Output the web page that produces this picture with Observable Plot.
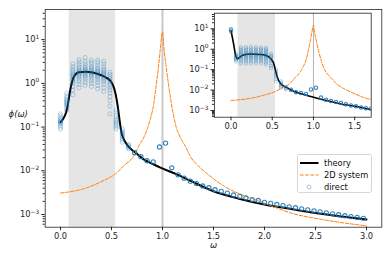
<!DOCTYPE html>
<html><head><meta charset="utf-8">
<script src="https://cdn.jsdelivr.net/npm/d3@7"></script>
<script src="https://cdn.jsdelivr.net/npm/@observablehq/plot@0.6"></script>
<style>
body{margin:0;background:#fff;}
#wrap{position:relative;width:390px;height:260px;font-family:"DejaVu Sans",sans-serif;}
#wrap svg{position:absolute;left:0;top:0;}
#legend{position:absolute;left:297px;top:154px;width:75px;height:39px;box-sizing:border-box;border:1px solid #d6d6d6;border-radius:2.5px;background:rgba(255,255,255,0.85);font-size:8.3px;color:#111;}
#legend .row{position:absolute;left:0;height:10px;line-height:10px;}
#legend svg{position:absolute;left:2px;top:0;}
#legend span{position:absolute;left:26px;white-space:nowrap;}
</style></head><body><div id="wrap"></div>
<script>
// ---- data ----
const band = [0.085, 0.54];
const resonance = 1.0;

const theoryX = [0,0.03,0.05,0.065,0.08,0.1,0.13,0.18,0.25,0.3,0.36,0.42,0.46,0.507,0.539,0.562,0.58,0.596,0.62,0.654,0.7,0.735,0.82,0.9,0.98,1.14,1.275,1.5,1.75,2.0,2.25,2.5,2.75,3.0];
const theoryY = [0.13,0.16,0.2,0.27,0.42,0.8,1.4,1.8,1.84,1.8,1.66,1.47,1.3,1.0,0.59,0.29,0.14,0.078,0.053,0.039,0.03,0.026,0.018,0.0145,0.0118,0.0083,0.0059,0.0034,0.0023,0.0017,0.00135,0.00108,0.0009,0.00077];

const orangeX = [0,0.23,0.39,0.49,0.54,0.62,0.72,0.775,0.82,0.85,0.88,0.915,0.938,0.964,0.98,1.0,1.013,1.036,1.062,1.095,1.134,1.18,1.225,1.275,1.35,1.44,1.6,1.765,1.93,2.09,2.25,2.58,3.0];
const orangeY = [0.0031,0.0039,0.0055,0.0072,0.0085,0.013,0.022,0.04,0.06,0.09,0.15,0.35,0.9,2.8,6.5,15,6.8,2.4,0.84,0.27,0.1,0.055,0.036,0.021,0.013,0.0085,0.0045,0.0029,0.0021,0.0015,0.0011,0.00076,0.00055];

const directX = [0.000,0.061,0.121,0.182,0.242,0.303,0.364,0.424,0.485,0.545,0.606,0.667,0.727,0.788,0.848,0.909,0.970,1.030,1.091,1.152,1.212,1.273,1.333,1.394,1.455,1.515,1.576,1.636,1.697,1.758,1.818,1.879,1.939,2.000,2.061,2.121,2.182,2.242,2.303,2.364,2.424,2.485,2.545,2.606,2.667,2.727,2.788,2.848,2.909,2.970];

// spread samples (k = 0..11) main
const mainSpread = [
 [0.09,0.1,0.11,0.12,0.125,0.13,0.135,0.14,0.15,0.16,0.18,0.2],
 [0.24,0.27,0.3,0.32,0.34,0.36,0.38,0.4,0.43,0.47,0.52,0.6],
 [0.55,0.7,0.85,1.0,1.1,1.2,1.3,1.4,1.5,1.6,1.75,1.9,2.1,2.4,2.8],
 [0.8,0.95,1.1,1.25,1.4,1.5,1.6,1.7,1.8,1.9,2.0,2.2,2.4,2.7,3.1,3.5],
 [0.9,1.05,1.2,1.35,1.5,1.6,1.7,1.8,1.9,2.0,2.1,2.3,2.5,2.8,3.2,3.9],
 [0.85,1.0,1.15,1.3,1.45,1.55,1.65,1.75,1.85,1.95,2.05,2.2,2.4,2.7,3.0,3.4],
 [0.75,0.9,1.05,1.2,1.35,1.45,1.55,1.65,1.75,1.85,1.95,2.1,2.3,2.6,3.0,3.4],
 [0.65,0.8,0.95,1.1,1.2,1.3,1.4,1.5,1.6,1.7,1.8,1.95,2.1,2.4,2.8,3.2],
 [0.2,0.3,0.4,0.5,0.6,0.7,0.8,0.9,1.0,1.1,1.2,1.3,1.45,1.6,1.8],
 [0.09,0.1,0.11,0.12,0.13,0.14,0.15,0.17,0.19,0.22,0.25],
 [0.045,0.05,0.055,0.06,0.065,0.07,0.075,0.08,0.09],
 [0.032,0.034,0.036,0.038,0.04]
];
// single values (k = 12..49) main
const mainDirect = [0.026,0.021,0.017,0.016,0.035,0.043,0.0117,0.0081,0.0068,0.0058,0.0051,0.0045,0.0041,0.0037,0.0034,0.0031,0.0028,0.0026,0.0024,0.0022,0.0021,0.0019,0.0018,0.0017,0.0016,0.0015,0.00143,0.00135,0.00128,0.00121,0.00115,0.00109,0.00104,0.00099,0.00094,0.0009,0.00086,0.00082];

// inset
const insetTheoryX = [0,0.015,0.032,0.052,0.073,0.09,0.11,0.15,0.235,0.356,0.42,0.46,0.5,0.52,0.54,0.56,0.6,0.69,0.72,0.83,1.0,1.17,1.33,1.5,1.7];
const insetTheoryY = [8,4,1.8,0.6,0.34,0.36,0.42,0.52,0.58,0.55,0.5,0.42,0.28,0.19,0.09,0.045,0.021,0.0125,0.0105,0.007,0.0045,0.003,0.0021,0.0016,0.0011];
const insetSpread = [
 [7,7.5,8,8.5,9,9.5,10],
 [0.25,0.3,0.33,0.36,0.4,0.45,0.5,0.57],
 [0.2,0.25,0.3,0.35,0.4,0.45,0.5,0.55,0.6,0.68,0.78,0.9,1.05,1.25],
 [0.2,0.25,0.3,0.35,0.4,0.45,0.5,0.55,0.6,0.68,0.78,0.9,1.05,1.25],
 [0.2,0.25,0.3,0.35,0.4,0.45,0.5,0.55,0.6,0.68,0.78,0.9,1.05,1.3],
 [0.2,0.25,0.3,0.35,0.4,0.45,0.5,0.55,0.6,0.68,0.78,0.9,1.05,1.25],
 [0.2,0.25,0.3,0.35,0.4,0.45,0.5,0.55,0.6,0.68,0.78,0.9,1.05,1.2],
 [0.18,0.22,0.27,0.32,0.37,0.42,0.47,0.52,0.58,0.65,0.75,0.88,1.0,1.15],
 [0.12,0.15,0.2,0.25,0.3,0.35,0.4,0.45,0.5,0.6],
 [0.027,0.035,0.045,0.055,0.065,0.08,0.1],
 [0.013,0.015,0.017,0.02,0.023,0.027],
 [0.011,0.012,0.013,0.014]
];
const insetDirect = [0.0105,0.0079,0.0071,0.0065,0.0107,0.013,0.0043,0.0034,0.0029,0.0026,0.0023,0.0020,0.00178,0.0016,0.00142,0.0013,0.00122];

const xTicksMain = [0,0.5,1,1.5,2,2.5,3];
const xTicksInset = [0,0.5,1,1.5];
const xTickLabelsMain = ["0.0","0.5","1.0","1.5","2.0","2.5","3.0"];
const xTickLabelsInset = ["0.0","0.5","1.0","1.5"];
const yTicks = [1e-3,1e-2,1e-1,1,10];
const yTickBase = "10";
const yTickExponents = ["\u22123","\u22122","\u22121","0","1"];
const legendLabels = ["theory","2D system","direct"];

// ---- tables ----
const theory = theoryX.map((x,i)=>({x, y: theoryY[i]}));
const orange = orangeX.map((x,i)=>({x, y: orangeY[i]}));
const insetTheory = insetTheoryX.map((x,i)=>({x, y: insetTheoryY[i]}));
const spreadRows = arr => arr.flatMap((vals,k)=>vals.map(y=>({x: directX[k], y})));
const singleRows = arr => arr.map((y,i)=>({x: directX[i+12], y}));
const minorTicks = [];
for (const e of [-4,-3,-2,-1,0,1]) for (let m=2;m<=9;m++) minorTicks.push(+(m*Math.pow(10,e)).toPrecision(3));
const yLabelOf = d => { const i = yTicks.findIndex(t => Math.abs(t - d) / t < 1e-6); return i < 0 ? "" : yTickBase + "^" + yTickExponents[i]; };

const BLUE = "#1f77b4", ORANGE = "#ff7f0e", INK = "#262626";
const font = {fontSize:"8.3px", fontFamily:"DejaVu Sans, sans-serif", color: INK, background:"transparent", overflow:"visible"};

function panel(o) {
  const dom = o.ydomain;
  const minors = minorTicks.filter(v => v >= dom[0] && v <= dom[1]);
  return Plot.plot({
    width: 390, height: 260,
    marginLeft: o.ml, marginRight: o.mr, marginTop: o.mt, marginBottom: o.mb,
    style: font,
    x: {domain: o.xdomain},
    y: {type: "log", domain: dom},
    marks: [
      o.bg ? Plot.frame({fill: "white", stroke: null}) : null,
      Plot.rect([band], {x1: d=>d[0], x2: d=>d[1], fill: "#e5e5e5"}),
      Plot.ruleX([resonance], {stroke: o.ruleColor, strokeWidth: o.ruleWidth}),
      Plot.line(o.theory, {x:"x", y:"y", stroke:"black", strokeWidth:o.lw, curve:"monotone-x", clip:true}),
      Plot.line(orange, {x:"x", y:"y", stroke:ORANGE, strokeWidth:1, strokeDasharray:"3.6,1.6", curve:"monotone-x", clip:true}),
      Plot.dot(spreadRows(o.spread), {x:"x", y:"y", r:o.r, stroke:BLUE, strokeWidth:1, strokeOpacity:0.3, fill:"none", clip:true}),
      Plot.dot(singleRows(o.single), {x:"x", y:"y", r:o.r, stroke:BLUE, strokeWidth:1.1, strokeOpacity:0.9, fill:"none", clip:true}),
      Plot.axisX({ticks: o.xticks, tickFormat: d=>o.xlabels[o.xticks.indexOf(d)], tickSize:3.5, tickPadding:2.5, label:null}),
      Plot.axisY({ticks: minors, tickFormat: ()=>"", tickSize:2, label:null}),
      Plot.axisY({ticks: yTicks.filter(v => v >= dom[0] && v <= dom[1]), tickFormat: yLabelOf, tickSize:3.5, tickPadding:2.5, label:null}),
      Plot.frame({stroke: INK, strokeWidth: 0.8}),
      ...(o.extra || [])
    ]
  });
}

// render "10^e" tick labels as base + raised exponent
function superscripts(svg) {
  svg.querySelectorAll("text").forEach(t => {
    const s = t.textContent;
    const j = s.indexOf("^");
    if (j < 0) return;
    const base = s.slice(0, j), exp = s.slice(j + 1);
    t.textContent = "";
    const ns = "http://www.w3.org/2000/svg";
    const a = document.createElementNS(ns, "tspan"); a.textContent = base;
    const b = document.createElementNS(ns, "tspan"); b.textContent = exp;
    b.setAttribute("dy", "-3.6"); b.setAttribute("font-size", "5.9");
    t.append(a, b);
  });
}

const main = panel({
  ml: 44.7, mr: 8.7, mt: 9, mb: 33.3,
  xdomain: [-0.15, 3.15], ydomain: [5.13e-4, 48.9],
  theory, spread: mainSpread, single: mainDirect,
  xticks: xTicksMain, xlabels: xTickLabelsMain,
  ruleColor: "#c8c8c8", ruleWidth: 2, lw: 2, r: 2.1,
  extra: [
    Plot.text(["\u03D5(\u03C9)"], {frameAnchor:"left", dx:-27, dy:-4, textAnchor:"middle", fontStyle:"italic", fontSize:8.5}),
    Plot.text(["\u03C9"], {frameAnchor:"bottom", dy:21, fontStyle:"italic", fontSize:8.5})
  ]
});
const inset = panel({
  ml: 214, mr: 19.3, mt: 12.7, mb: 143.3, bg: true,
  xdomain: [-0.2, 1.7], ydomain: [4.7e-4, 58],
  theory: insetTheory, spread: insetSpread, single: insetDirect,
  xticks: xTicksInset, xlabels: xTickLabelsInset,
  ruleColor: "#b4b4b4", ruleWidth: 1, lw: 1.6, r: 1.7
});
superscripts(main); superscripts(inset);
const wrap = document.getElementById("wrap");
wrap.append(main, inset);

// legend
const lg = document.createElement("div");
lg.id = "legend";
const rowsY = [3.3, 14.7, 27];
legendLabels.forEach((lab, i) => {
  const row = document.createElement("div");
  row.className = "row";
  row.style.top = rowsY[i] + "px";
  let sample;
  if (i === 0) sample = `<line x1="0" x2="18.5" y1="5" y2="5" stroke="black" stroke-width="2"/>`;
  else if (i === 1) sample = `<line x1="0" x2="18.5" y1="5" y2="5" stroke="${ORANGE}" stroke-width="1" stroke-dasharray="3.6,1.6"/>`;
  else sample = `<circle cx="9.2" cy="5" r="1.9" fill="none" stroke="${BLUE}" stroke-opacity="0.4" stroke-width="1"/>`;
  row.innerHTML = `<svg width="20" height="10">${sample}</svg><span>${lab}</span>`;
  lg.append(row);
});
wrap.append(lg);
</script></body></html>
